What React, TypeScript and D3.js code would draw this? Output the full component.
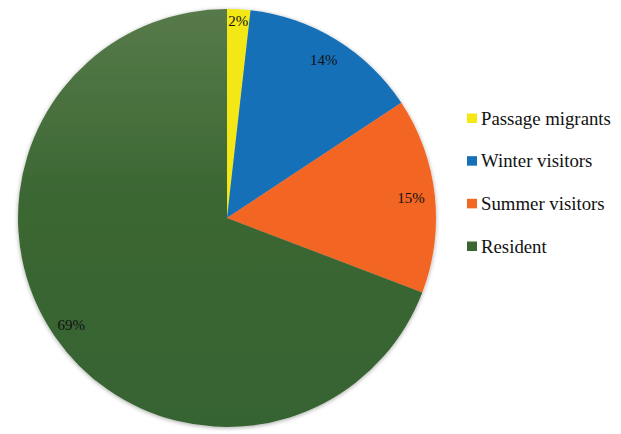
import * as d3 from "d3";

const categories = ["Passage migrants", "Winter visitors", "Summer visitors", "Resident"];
const shares = [1.8, 13.9, 15.1, 69.2];
const labels = ["2%", "14%", "15%", "69%"];
const colors = ["#f4e712", "#1570b8", "#f26522", "url(#greenGrad)"];
const legendColors = ["#f4e712", "#1570b8", "#f26522", "#3b6632"];

const serif = "Liberation Serif";

const App = () => {
  const cx = 227,
    cy = 218,
    radius = 209;

  const pie = d3.pie<number>().sort(null).value((d) => d);
  const arcs = pie(shares);
  const arc = d3.arc<d3.PieArcDatum<number>>().innerRadius(0).outerRadius(radius);
  const labelRadius = [197, 185, 185, 189];
  const legendY = d3.scalePoint().domain(categories).range([118, 246]);

  return (
    <svg width={621} height={434} style={{ position: "absolute", left: 0, top: 0 }}>
      <defs>
        <linearGradient id="greenGrad" gradientUnits="userSpaceOnUse" x1={0} y1={-radius} x2={0} y2={radius}>
          <stop offset="0%" stopColor="#577a4a" />
          <stop offset="45%" stopColor="#3b6733" />
          <stop offset="100%" stopColor="#366330" />
        </linearGradient>
        <filter id="shadow" x="-10%" y="-10%" width="120%" height="120%">
          <feDropShadow dx={0} dy={1} stdDeviation={2} floodColor="#000" floodOpacity={0.35} />
        </filter>
      </defs>
      <g transform={`translate(${cx}, ${cy})`}>
        <g filter="url(#shadow)">
          {arcs.map((d, i) => (
            <path key={i} d={arc(d) ?? ""} fill={colors[i]} />
          ))}
        </g>
        {arcs.map((d, i) => {
          const a = (d.startAngle + d.endAngle) / 2;
          return (
            <text
              key={i}
              x={Math.sin(a) * labelRadius[i]}
              y={-Math.cos(a) * labelRadius[i]}
              textAnchor="middle"
              dominantBaseline="central"
              fontSize={15}
              fill="#111"
              style={{ fontFamily: serif }}
            >
              {labels[i]}
            </text>
          );
        })}
      </g>
      <g>
        {categories.map((c, i) => {
          const y = legendY(c) ?? 0;
          return (
            <g key={c}>
              <rect x={467} y={y - 4.5} width={10} height={9.5} fill={legendColors[i]} />
              <text
                x={481}
                y={y}
                dominantBaseline="central"
                fontSize={18.8}
                fill="#111"
                style={{ fontFamily: serif }}
              >
                {c}
              </text>
            </g>
          );
        })}
      </g>
    </svg>
  );
};

export default App;
